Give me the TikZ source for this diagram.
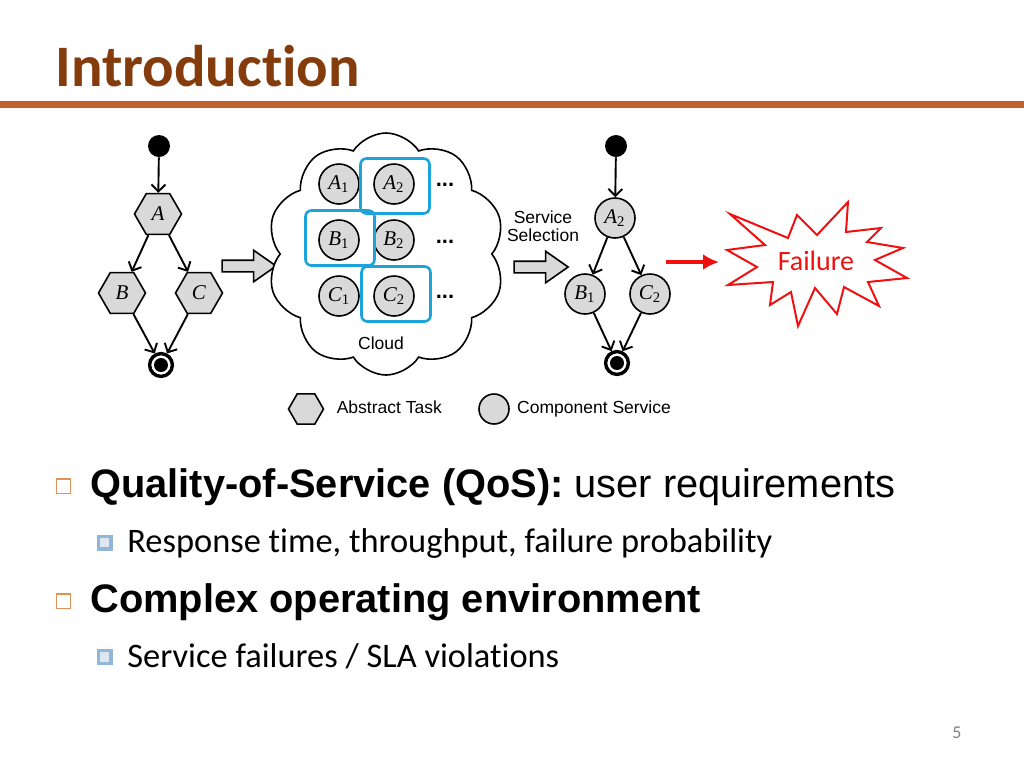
\documentclass[tikz,border=0pt]{standalone}
\usepackage{fontspec}
\setmainfont[Ligatures=NoCommon]{Carlito}
\newfontfamily\arialfont{Liberation Sans}
\newfontfamily\timesfont{Liberation Serif}
\usetikzlibrary{arrows.meta, positioning, shapes.geometric, shapes.symbols, shapes.arrows}

\definecolor{titlebrown}{HTML}{843C0C}
\definecolor{rulebrown}{HTML}{C0622D}
\definecolor{taskgray}{HTML}{D9D9D9}
\definecolor{selblue}{HTML}{1BA3DA}
\definecolor{bulorange}{HTML}{E3915A}
\definecolor{bulblue}{HTML}{92B6DA}
\definecolor{bulfill}{HTML}{DCE7F2}
\definecolor{failred}{HTML}{F01010}

\newcommand{\svc}[2]{{\timesfont\itshape #1}\textsubscript{\timesfont\upshape #2}}

\begin{document}
\begin{tikzpicture}[
  x=0.5pt, y=-0.5pt,
  font=\arialfont\fontsize{8.75}{10}\selectfont,
  task/.style={regular polygon, regular polygon sides=6, draw, fill=taskgray,
               line width=0.8pt, minimum size=23.5pt, inner sep=0pt,
               font=\timesfont\itshape\fontsize{10.5}{11}\selectfont},
  comp/.style={circle, draw, fill=taskgray, line width=0.8pt,
               minimum size=20pt, inner sep=0pt, font=\fontsize{10.5}{11}\selectfont},
  startdot/.style={circle, fill=black, minimum size=11pt, inner sep=0pt},
  enddot/.style={circle, draw, line width=1.7pt, minimum size=11.4pt, inner sep=0pt,
                 path picture={\fill (path picture bounding box.center) circle (3.5pt);}},
  flow/.style={-{Straight Barb[length=3.5pt, width=7pt]}, line width=0.95pt},
  hollow/.style={single arrow, draw, fill=taskgray, line width=0.8pt,
                 minimum height=27pt, inner sep=2.5pt, single arrow head extend=5pt,
                 single arrow tip angle=70},
  selbox/.style={draw=selblue, line width=1.3pt, rounded corners=3pt,
                 minimum width=34.5pt, minimum height=27.5pt},
  burst/.style={draw=failred, line width=1pt, line join=miter},
  failarrow/.style={-{Latex[length=8pt, width=8pt]}, draw=failred, line width=2pt},
  moredots/.style={font=\arialfont\bfseries\fontsize{11}{11}\selectfont},
  legtxt/.style={inner sep=0pt, text height=6.5pt, text depth=1.8pt},
  obul/.style={draw=bulorange, line width=0.7pt, minimum size=7.2pt, inner sep=0pt},
  bbul/.style={draw=bulblue, fill=bulfill, line width=1.6pt, minimum size=6.4pt, inner sep=0pt},
  bigitem/.style={anchor=base west, inner sep=0pt, font=\arialfont\fontsize{19.9}{24}\selectfont},
  subitem/.style={anchor=base west, inner sep=0pt, font=\fontsize{17.2}{20}\selectfont}
]
\useasboundingbox (0,0) rectangle (1024,768);

%% ---------- title ----------
\node[anchor=base west, inner sep=0pt, text=titlebrown,
      font=\bfseries\fontsize{29.4}{33}\selectfont] (title) at (55,86) {Introduction};
\draw[rulebrown, line width=3.5pt] (0,104) -- (1024,104);

%% ---------- left: abstract workflow ----------
\node[startdot] (ls) at (159,146) {};
\node[task] (la) at (158,214) {A};
\node[task] (lb) at (122,293) {B};
\node[task] (lc) at (199,293) {C};
\node[enddot] (le) at (161,365) {};

\draw[flow] (ls) -- (la);
\draw[flow] (la) -- (lb);
\draw[flow] (la) -- (lc);
\draw[flow] (lb) -- (le);
\draw[flow] (lc) -- (le);

\node[hollow] (toCloud) at (245,266) {};

%% ---------- centre: cloud of candidates ----------
\node[cloud, cloud puffs=10, cloud puff arc=115, cloud ignores aspect, draw, fill=white,
      line width=0.8pt, minimum width=119pt, minimum height=121pt] (cloud) at (386,254) {};

\node[comp] (a1) at (339,184) {\svc{A}{1}};
\node[comp] (a2) at (394,184) {\svc{A}{2}};
\node[comp] (b1) at (339,240) {\svc{B}{1}};
\node[comp] (b2) at (394,240) {\svc{B}{2}};
\node[comp] (c1) at (339,296) {\svc{C}{1}};
\node[comp] (c2) at (394,296) {\svc{C}{2}};
\node[moredots] (adots) at (445,185) {...};
\node[moredots] (bdots) at (445,242) {...};
\node[moredots] (cdots) at (445,297) {...};

\node[selbox] (a2box) at (395,186) {};
\node[selbox] (b1box) at (340,238) {};
\node[selbox] (c2box) at (396,294) {};

\node (cloudlbl) at (381,343) {Cloud};

%% ---------- selection ----------
\node[align=center, font=\arialfont\fontsize{8.75}{9}\selectfont] (sellbl) at (543,226)
  {Service\\Selection};
\node[hollow] (toPlan) at (537,267) {};

%% ---------- right: concrete workflow ----------
\node[startdot] (rs) at (616,146) {};
\node[comp] (ra) at (615,218) {\svc{A}{2}};
\node[comp] (rb) at (585,294) {\svc{B}{1}};
\node[comp] (rc) at (650,294) {\svc{C}{2}};
\node[enddot] (re) at (617,363) {};

\draw[flow] (rs) -- (ra);
\draw[flow] (ra) -- (rb);
\draw[flow] (ra) -- (rc);
\draw[flow] (rb) -- (re);
\draw[flow] (rc) -- (re);

%% ---------- failure ----------
\coordinate (failfrom) at (666,262);
\coordinate (failto) at (719,262);
\draw[failarrow] (failfrom) -- (failto);

\draw[burst] (730,214) -- (788,238) -- (797,215) -- (817,235) -- (848,202)
  -- (846,232) -- (881,228) -- (867,242) -- (903,248) -- (875,260)
  -- (907,278) -- (868,282) -- (879,306) -- (844,287) -- (837,314)
  -- (815,288) -- (798,326) -- (791,292) -- (770,305) -- (773,282)
  -- (728,285) -- (757,267) -- (727,250) -- (765,245) -- cycle;
\node[text=failred, font=\fontsize{14}{16}\selectfont] (failtxt) at (816,261) {Failure};

%% ---------- legend ----------
\node[task, minimum size=17.5pt] (legtask) at (306,409) {};
\node[legtxt, right=6pt of legtask] (legtasktxt) {Abstract Task};
\node[comp, minimum size=15pt] (legcomp) at (494,409) {};
\node[legtxt, right=3.5pt of legcomp] (legcomptxt) {Component Service};

%% ---------- bullets ----------
\node[obul] (qosbul) at (63.5,486) {};
\node[bigitem] (qos) at (90,497) {\textbf{Quality-of-Service (QoS):} user requirements};
\node[bbul] (qosbul2) at (104.5,542.5) {};
\node[subitem] (qossub) at (127,552) {Response time, throughput, failure probability};
\node[obul] (envbul) at (63.5,601) {};
\node[bigitem] (env) at (90,612) {\textbf{Complex operating environment}};
\node[bbul] (envbul2) at (104.5,657) {};
\node[subitem] (envsub) at (127,667) {Service failures / SLA violations};

\node[text=gray, font=\fontsize{9}{10}\selectfont] (pageno) at (957,733) {5};
\end{tikzpicture}
\end{document}
